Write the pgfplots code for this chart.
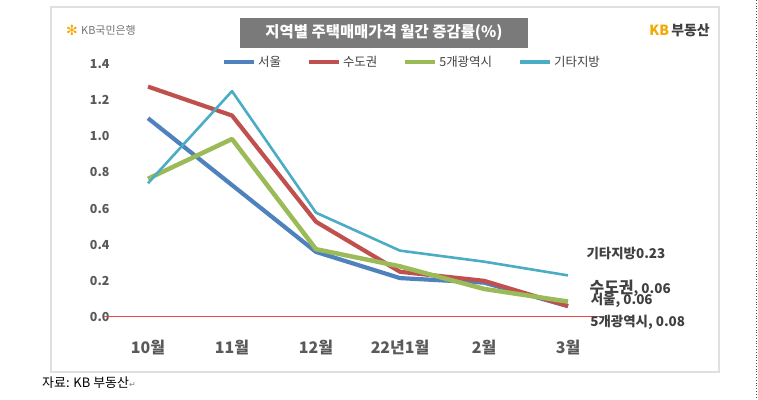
\documentclass[border=0pt]{standalone}
\usepackage{pgfplots}
\pgfplotsset{compat=1.18}
\usepackage{fontspec}
\setmainfont{Noto Sans CJK KR}
\newfontfamily\djv{DejaVu Sans}
\definecolor{cblue}{HTML}{4F81BD}
\definecolor{cred}{HTML}{C0504D}
\definecolor{cgreen}{HTML}{9BBB59}
\definecolor{cteal}{HTML}{4BACC6}
\definecolor{tgray}{HTML}{595959}
\definecolor{dgray}{HTML}{404040}
\definecolor{kbyel}{HTML}{F2A900}
\definecolor{zline}{HTML}{E84848}
\begin{document}
\begin{tikzpicture}[x=1bp,y=1bp]
\path[use as bounding box] (0,0) rectangle (758,399);
% frame
\draw[black!12, line width=1.2bp] (51,392) rectangle (719,27);
\draw[black!70, dotted, line width=0.8bp] (756.5,399) -- (756.5,0);
% title
\fill[black!52] (240,381) rectangle (528,351);
\node[white, font=\bfseries\fontsize{15.5}{17}\selectfont] at (384,366) {지역별 주택매매가격 월간 증감률(\%)};
% logos
\node[kbyel, font=\djv\fontsize{14}{16}\selectfont] at (72,369) {✻};
\node[anchor=west, black!55, font=\fontsize{11}{13}\selectfont, inner sep=0pt] at (81,369) {KB국민은행};
\node[anchor=east, font=\bfseries\fontsize{14}{16}\selectfont, inner sep=0pt] at (710,369) {\textcolor{kbyel}{KB}\,\textcolor{dgray}{부동산}};
% caption
\node[anchor=west, font=\fontsize{13}{15}\selectfont, inner sep=0pt] at (42,16) {자료: KB 부동산\textcolor{black!50}{\djv\fontsize{8}{8}\selectfont ↵}};
\begin{axis}[
  at={(104bp,64bp)}, anchor=south west,
  scale only axis, width=496bp, height=280bp,
  xmin=-0.5238, xmax=5.381, ymin=-0.1, ymax=1.45,
  axis line style={draw=none}, major tick length=0pt,
  clip=false,
  ytick={0,0.2,0.4,0.6,0.8,1.0,1.2,1.4},
  /pgf/number format/fixed,
  /pgf/number format/fixed zerofill,
  /pgf/number format/precision=1,
  /pgf/number format/assume math mode=true,
  yticklabel style={font=\bfseries\fontsize{12.5}{14}\selectfont, text=tgray, xshift=9bp},
  xtick={0,1,2,3,4,5},
  xticklabels={10월,11월,12월,22년1월,2월,3월},
  xticklabel style={font=\bfseries\fontsize{16}{18}\selectfont, text=tgray, yshift=-2bp},
  legend style={at={(0.621,0.975)}, anchor=center, legend columns=4, draw=none, fill=none,
    font=\fontsize{12.5}{14}\selectfont, text=dgray,
    /tikz/every even column/.append style={column sep=24bp}},
  legend image code/.code={\draw[#1, line width=4bp] (0bp,0bp) -- (30bp,0bp);},
  every axis plot/.append style={line join=round},
]
\addplot[zline, line width=0.9bp, forget plot] coordinates {(-0.5238,0) (5.381,0)};
\addplot[cblue, line width=4.2bp] coordinates {(0,1.10) (1,0.73) (2,0.36) (3,0.215) (4,0.19) (5,0.06)};
\addlegendentry{서울}
\addplot[cred, line width=4.2bp] coordinates {(0,1.275) (1,1.115) (2,0.527) (3,0.25) (4,0.20) (5,0.06)};
\addlegendentry{수도권}
\addplot[cgreen, line width=4.5bp] coordinates {(0,0.765) (1,0.985) (2,0.375) (3,0.28) (4,0.155) (5,0.085)};
\addlegendentry{5개광역시}
\addplot[cteal, line width=2.6bp] coordinates {(0,0.74) (1,1.25) (2,0.577) (3,0.367) (4,0.306) (5,0.23)};
\addlegendentry{기타지방}
\node[font=\bfseries\fontsize{13.5}{15}\selectfont, text=dgray] at (axis cs:5.69,0.354) {기타지방0.23};
\node[font=\bfseries\fontsize{13.5}{15}\selectfont, text=dgray] at (axis cs:5.74,0.16) {{\fontsize{16}{18}\selectfont 수도권}, 0.06};
\node[font=\bfseries\fontsize{13.5}{15}\selectfont, text=dgray] at (axis cs:5.64,0.094) {서울, 0.06};
\node[font=\bfseries\fontsize{13.5}{15}\selectfont, text=dgray] at (axis cs:5.83,-0.03) {5개광역시, 0.08};
\end{axis}
\end{tikzpicture}
\end{document}
